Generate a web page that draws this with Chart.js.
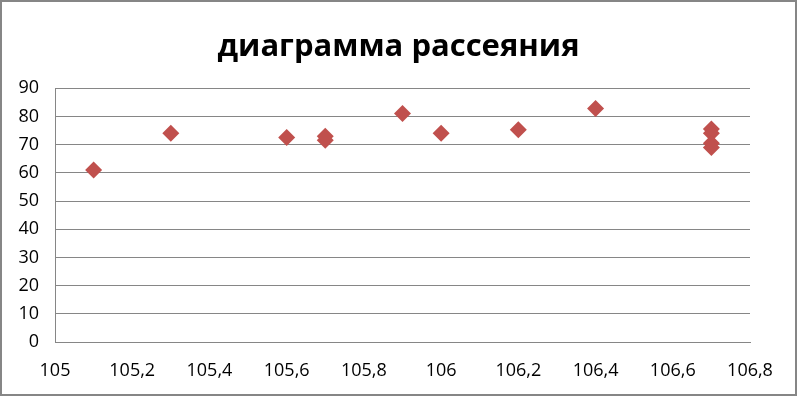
<!DOCTYPE html>
<html>
<head>
<meta charset="utf-8">
<script src="https://cdn.jsdelivr.net/npm/chart.js@4.4.1/dist/chart.umd.min.js"></script>
<style>
  html, body { margin: 0; padding: 0; background: #fff; }
  #wrap { width: 793px; height: 392px; border: 2px solid #868686; position: relative; }
</style>
</head>
<body>
<div id="wrap"><canvas id="scatter"></canvas></div>
<script>
// scatter data
const xValues = [105.1, 105.3, 105.6, 105.7, 105.7, 105.9, 106.0, 106.2, 106.4, 106.7, 106.7, 106.7, 106.7];
const yValues = [61, 74, 72.5, 73, 71.5, 81, 74, 75.3, 82.8, 75.5, 74, 70.5, 69];
const titleText = 'диаграмма рассеяния';

const points = xValues.map((x, i) => ({ x: x, y: yValues[i] }));
const gridColor = '#868686';
const markerColor = '#C0504D';

const ctx = document.getElementById('scatter').getContext('2d');
const scatterChart = new Chart(ctx, {
    type: 'scatter',
    data: {
        datasets: [{
            data: points,
            pointStyle: 'rectRot',
            pointRadius: 8.5,
            pointHoverRadius: 8.5,
            backgroundColor: markerColor,
            borderColor: markerColor,
            borderWidth: 0
        }]
    },
    options: {
        responsive: true,
        maintainAspectRatio: false,
        animation: false,
        layout: {
            padding: 0
        },
        plugins: {
            legend: { display: false },
            tooltip: { enabled: false },
            title: {
                display: true,
                text: titleText,
                color: '#000',
                font: { family: 'Open Sans', size: 31, weight: 'bold' },
                padding: { top: 27, bottom: 22 }
            }
        },
        scales: {
            x: {
                type: 'linear',
                min: 105,
                max: 106.8,
                border: { display: true, color: gridColor, width: 1 },
                grid: { display: false, drawTicks: false },
                ticks: {
                    stepSize: 0.2,
                    color: '#000',
                    padding: 18,
                    font: { family: 'Open Sans', size: 18 },
                    callback: value => String(Number(value.toFixed(1))).replace('.', ',')
                },
                afterFit: scale => { scale.height = 52; }
            },
            y: {
                min: 0,
                max: 90,
                border: { display: true, color: gridColor, width: 1 },
                grid: { color: gridColor, drawTicks: false },
                ticks: {
                    stepSize: 10,
                    color: '#000',
                    padding: 16,
                    font: { family: 'Open Sans', size: 18 }
                },
                afterFit: scale => { scale.width = 53; }
            },
            // empty space on the right, keeps the title centred on the whole chart
            spacer: {
                position: 'right',
                border: { display: false },
                grid: { display: false, drawTicks: false },
                ticks: { display: false },
                afterFit: scale => { scale.width = 45; }
            }
        }
    }
});
</script>
</body>
</html>
